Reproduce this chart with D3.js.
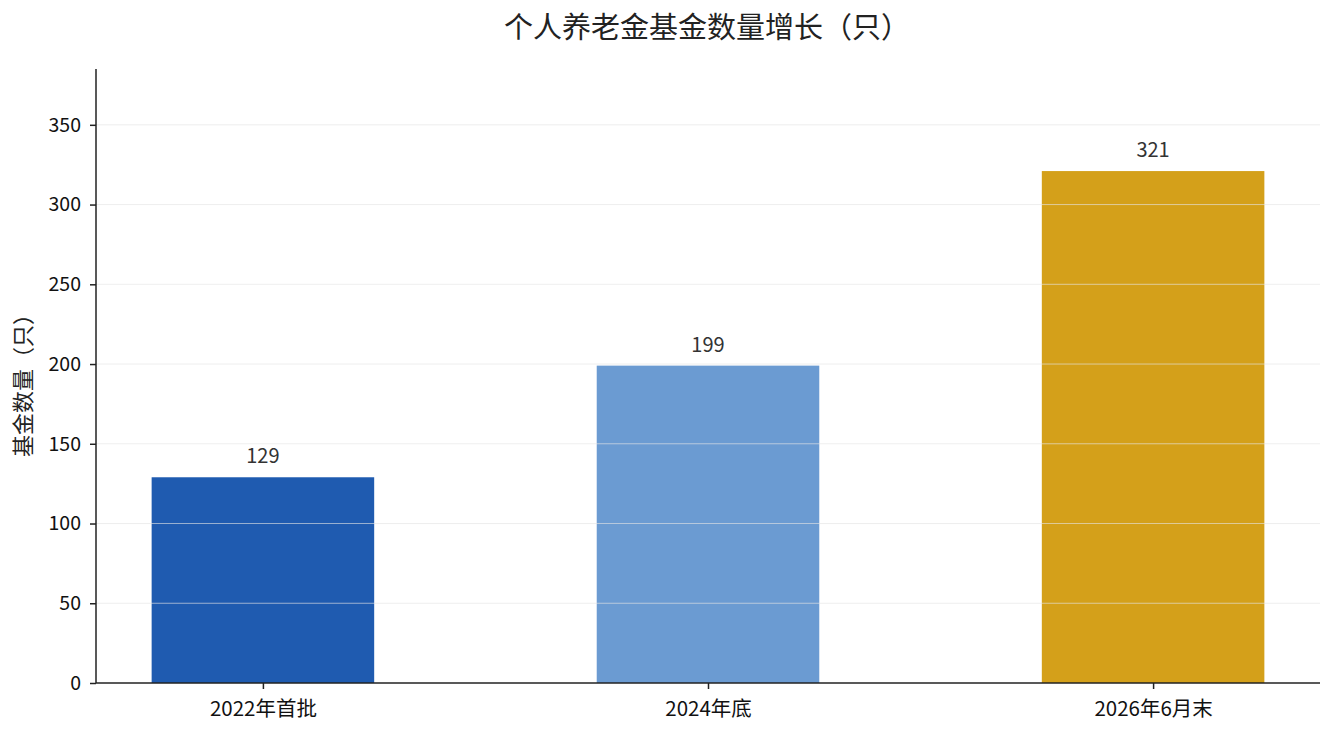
<!DOCTYPE html>
<html><head><meta charset="utf-8">
<script src="https://cdn.jsdelivr.net/npm/d3@7"></script>
<style>
body{margin:0;background:#fff;}
text{font-family:"Noto Sans CJK SC","Noto Sans",sans-serif;}
</style></head>
<body><svg id="c" width="1335" height="735"></svg>
<script>
const categories = ["2022年首批", "2024年底", "2026年6月末"];
const values = [129, 199, 321];
const colors = ["#1f5bb0", "#6b9bd2", "#d4a01a"];
const yTicks = [0, 50, 100, 150, 200, 250, 300, 350];
const title = "个人养老金基金数量增长（只）";
const yLabel = "基金数量（只）";

const svg = d3.select("#c");
const L = 96, R = 1320, T = 69, B = 683;
const x = d3.scaleLinear().domain([-0.375, categories.length - 1 + 0.375]).range([L, R]);
const y = d3.scaleLinear().domain([0, 385]).range([B, T]);
const bw = x(0.5) - x(0);

svg.selectAll("rect.bar").data(values).enter().append("rect")
  .attr("x", (d, i) => x(i) - bw / 2).attr("width", bw)
  .attr("y", d => y(d)).attr("height", d => B - y(d))
  .attr("fill", (d, i) => colors[i]);

// grid over bars
svg.selectAll("line.grid").data(yTicks.filter(t => t > 0)).enter().append("line")
  .attr("x1", L).attr("x2", R).attr("y1", d => y(d)).attr("y2", d => y(d))
  .attr("stroke", "#e4e4e4").attr("stroke-opacity", 0.8).attr("stroke-width", 0.8);

svg.selectAll("text.val").data(values).enter().append("text")
  .attr("x", (d, i) => x(i)).attr("y", d => y(d) - 14)
  .attr("text-anchor", "middle").attr("font-size", 20).attr("fill", "#333")
  .text(d => d);

const yAxis = svg.append("g").attr("transform", `translate(${L},0)`)
  .call(d3.axisLeft(y).tickValues(yTicks).tickSize(6).tickPadding(9));
const xAxis = svg.append("g").attr("transform", `translate(0,${B})`)
  .call(d3.axisBottom(x).tickValues(d3.range(categories.length)).tickFormat(i => categories[i]).tickSize(6).tickPadding(5));
[yAxis, xAxis].forEach(g => {
  g.selectAll("path.domain").attr("stroke", "#222").attr("stroke-width", 1.5);
  g.selectAll(".tick line").attr("stroke", "#222").attr("stroke-width", 1.5);
  g.selectAll(".tick text").attr("fill", "#111")
    .attr("font-family", '"Noto Sans CJK SC","Noto Sans",sans-serif');
});
yAxis.selectAll(".tick text").attr("font-size", 19.5);
xAxis.selectAll(".tick text").attr("font-size", 20.5).attr("dy", null).attr("y", 33);
yAxis.select("path.domain").attr("d", `M0,${T}V${B}`);
xAxis.select("path.domain").attr("d", `M${L},0H${R}`);

svg.append("text").attr("x", 707).attr("y", 38).attr("text-anchor", "middle")
  .attr("font-size", 29).attr("fill", "#222").text(title);
svg.append("text").attr("transform", `translate(31,380) rotate(-90)`)
  .attr("text-anchor", "middle").attr("font-size", 22).attr("fill", "#222").text(yLabel);
</script></body></html>
